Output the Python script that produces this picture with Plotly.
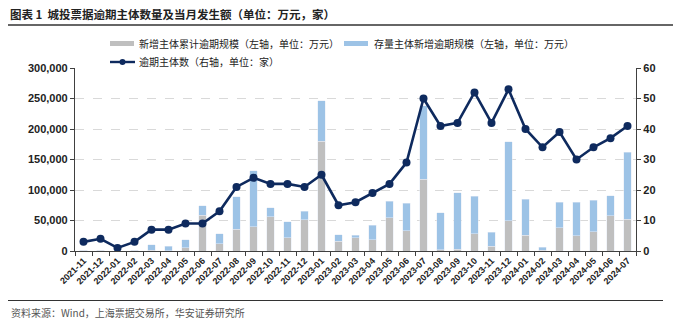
import plotly.graph_objects as go

months = ["2021-11","2021-12","2022-01","2022-02","2022-03","2022-04","2022-05","2022-06",
          "2022-07","2022-08","2022-09","2022-10","2022-11","2022-12","2023-01","2023-02",
          "2023-03","2023-04","2023-05","2023-06","2023-07","2023-08","2023-09","2023-10",
          "2023-11","2023-12","2024-01","2024-02","2024-03","2024-04","2024-05","2024-06","2024-07"]

# 新增主体累计逾期规模（万元）
new_entity = [1500, 1200, 300, 1500, 1000, 500, 5500, 58800,
              12000, 35700, 40000, 56000, 22000, 51600, 180000, 15900,
              22000, 18700, 54400, 33000, 117600, 2000, 3000, 28600,
              8200, 50000, 25800, 1600, 38500, 25300, 31300, 58200, 52200]
# 存量主体新增逾期规模（万元）
existing_entity = [0, 0, 0, 0, 8900, 7700, 13200, 15200,
                   16500, 53300, 91900, 14900, 25800, 13800, 66000, 11000,
                   3800, 23600, 27500, 45000, 120400, 60600, 92600, 61500,
                   22600, 128700, 58800, 4400, 41200, 54900, 52200, 32500, 110100]
# 逾期主体数（家）
overdue_count = [3, 4, 1, 3, 7, 7, 9, 9, 13, 21, 24, 22, 22, 21, 25, 15,
                 16, 19, 22, 29, 50, 41, 42, 52, 42, 53, 40, 34, 39, 30, 34, 37, 41]

names = ["新增主体累计逾期规模（左轴，单位：万元）",
         "存量主体新增逾期规模（左轴，单位：万元）",
         "逾期主体数（右轴，单位：家）"]
gray, blue, navy = "#BFBFBF", "#9DC3E6", "#0E2A5E"
cjk = "Noto Sans CJK SC"
num = "Liberation Sans, Arial"

fig = go.Figure()
fig.add_trace(go.Bar(x=months, y=new_entity, name=names[0], marker_color=gray,
                     width=0.42, showlegend=False))
fig.add_trace(go.Bar(x=months, y=existing_entity, name=names[1], marker_color=blue,
                     width=0.42, showlegend=False))
fig.add_trace(go.Scatter(x=months, y=overdue_count, name=names[2], yaxis="y2",
                         mode="lines+markers", line=dict(color=navy, width=2.6),
                         marker=dict(color=navy, size=8), showlegend=False))

W, H = 679, 323
L, R, T, B = 75, 43, 68, 72
pw, ph = W - L - R, H - T - B

def px(x):
    return (x - L) / pw

def py(y):
    return (H - B - y) / ph

shapes = [
    dict(type="line", xref="paper", yref="paper", x0=px(8), x1=px(673), y0=py(25), y1=py(25),
         line=dict(color="#333333", width=1.5)),
    dict(type="line", xref="paper", yref="paper", x0=px(8), x1=px(663), y0=py(300.5), y1=py(300.5),
         line=dict(color="#333333", width=1.2)),
    # legend swatches
    dict(type="rect", xref="paper", yref="paper", x0=px(110), x1=px(134), y0=py(46), y1=py(41),
         fillcolor=gray, line=dict(width=0)),
    dict(type="rect", xref="paper", yref="paper", x0=px(344), x1=px(368), y0=py(46), y1=py(41),
         fillcolor=blue, line=dict(width=0)),
    dict(type="line", xref="paper", yref="paper", x0=px(110), x1=px(135), y0=py(62), y1=py(62),
         line=dict(color=navy, width=2.4)),
    dict(type="circle", xref="paper", yref="paper", x0=px(119.5), x1=px(125.5), y0=py(65), y1=py(59),
         fillcolor=navy, line=dict(width=0)),
]

annotations = [
    dict(text="<b>图表 1  城投票据逾期主体数量及当月发生额（单位：万元，家）</b>", xref="paper", yref="paper",
         x=px(8), y=py(14), xanchor="left", yanchor="middle", showarrow=False,
         font=dict(family=cjk, size=11.5, color="#222222")),
    dict(text=names[0], xref="paper", yref="paper", x=px(137), y=py(43.5), xanchor="left",
         yanchor="middle", showarrow=False, font=dict(family=cjk, size=10, color="#222222")),
    dict(text=names[1], xref="paper", yref="paper", x=px(372), y=py(43.5), xanchor="left",
         yanchor="middle", showarrow=False, font=dict(family=cjk, size=10, color="#222222")),
    dict(text=names[2], xref="paper", yref="paper", x=px(137), y=py(62), xanchor="left",
         yanchor="middle", showarrow=False, font=dict(family=cjk, size=10, color="#222222")),
    dict(text="资料来源：Wind，上海票据交易所，华安证券研究所", xref="paper", yref="paper",
         x=px(9), y=py(312), xanchor="left", yanchor="middle", showarrow=False,
         font=dict(family=cjk, size=10, color="#555555")),
]

axis_col = "#404040"
fig.update_layout(
    width=W, height=H, margin=dict(l=L, r=R, t=T, b=B, pad=0),
    paper_bgcolor="white", plot_bgcolor="white",
    barmode="stack", bargap=0.58,
    shapes=shapes, annotations=annotations,
    xaxis=dict(type="category", tickangle=-45, tickson="boundaries", ticks="outside", ticklen=4,
               tickcolor=axis_col, showline=True, linecolor=axis_col, linewidth=1.2,
               tickfont=dict(family=num, size=9, color="#222222", weight="bold"),
               range=[-0.5, len(months) - 0.5], showgrid=False),
    yaxis=dict(range=[0, 300000], dtick=50000, tickformat=",", ticks="outside", ticklen=4,
               tickcolor=axis_col, showline=True, linecolor=axis_col, linewidth=1.2,
               showgrid=True, gridcolor="#D9D9D9", griddash="dash", gridwidth=1,
               zeroline=False, tickfont=dict(family=num, size=11, color="#222222", weight="bold")),
    yaxis2=dict(range=[0, 60], dtick=10, overlaying="y", side="right", ticks="outside", ticklen=4,
                tickcolor=axis_col, showline=True, linecolor=axis_col, linewidth=1.2,
                showgrid=False, zeroline=False,
                tickfont=dict(family=num, size=11, color="#222222", weight="bold")),
)

fig.write_html("out.html")
